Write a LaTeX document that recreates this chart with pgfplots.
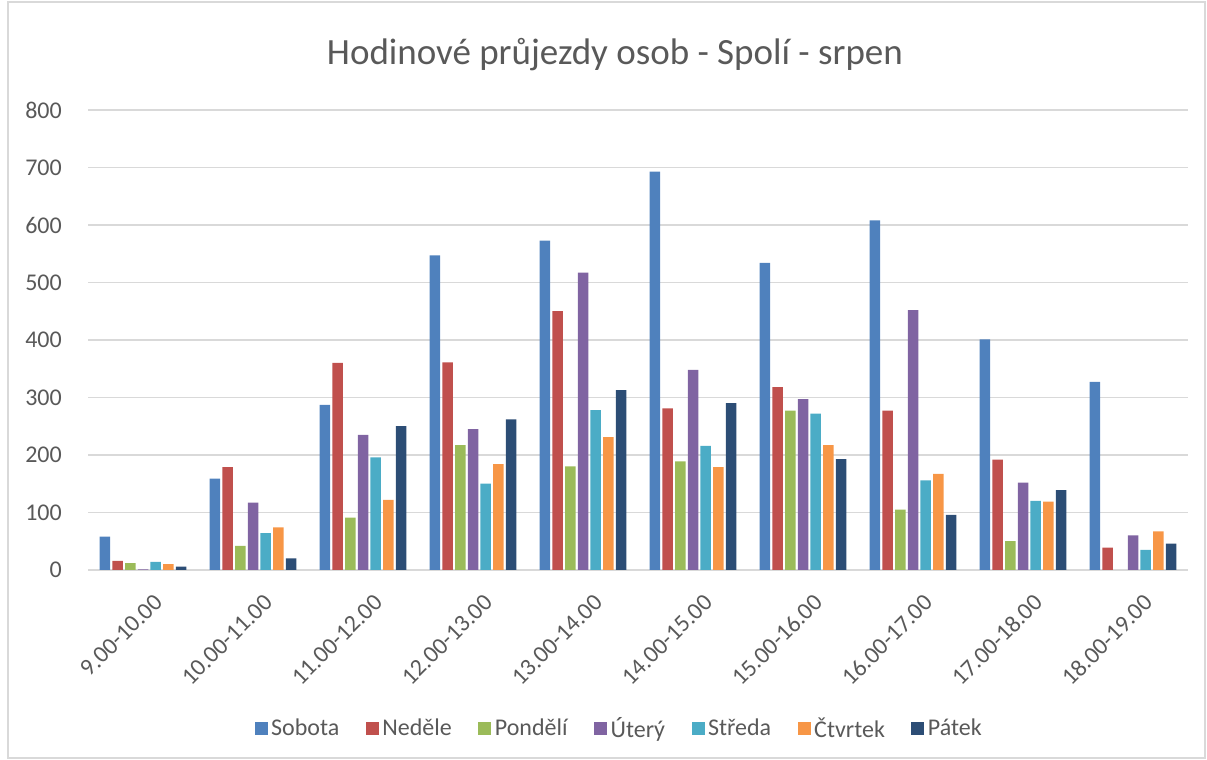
\documentclass[border=0pt]{standalone}
\usepackage{fontspec}
\setmainfont{Carlito}
\usepackage{pgfplots}
\pgfplotsset{compat=1.18}
\definecolor{cS}{HTML}{4F81BD}
\definecolor{cN}{HTML}{C0504D}
\definecolor{cP}{HTML}{9BBB59}
\definecolor{cU}{HTML}{8064A2}
\definecolor{cSt}{HTML}{4BACC6}
\definecolor{cC}{HTML}{F79646}
\definecolor{cPa}{HTML}{2C4D75}
\definecolor{txt}{HTML}{595959}
\definecolor{gridc}{HTML}{D9D9D9}
\begin{document}
\begin{tikzpicture}[x=1pt,y=1pt]
\useasboundingbox (0,0) rectangle (1207,760);
\draw[gridc, line width=1.2pt] (8,2) rectangle (1205,758);
\node[text=txt, font=\fontsize{37}{44}\selectfont, inner sep=0pt] at (615,705) {Hodinové průjezdy osob - Spolí - srpen};
\begin{axis}[
  at={(88pt,190pt)}, anchor=south west, scale only axis,
  width=1100pt, height=460pt,
  xmin=-0.5, xmax=9.5, ymin=0, ymax=800,
  ytick={0,100,...,800},
  xtick={0,...,9},
  xticklabels={9.00-10.00,10.00-11.00,11.00-12.00,12.00-13.00,13.00-14.00,14.00-15.00,15.00-16.00,16.00-17.00,17.00-18.00,18.00-19.00},
  /pgf/number format/assume math mode=true,
  axis line style={draw=none},
  major tick length=0pt,
  tick style={draw=none},
  ymajorgrids, grid style={gridc, line width=1.2pt},
  tick label style={font=\fontsize{24}{28}\selectfont, text=txt},
  yticklabel style={inner sep=0pt, xshift=-26pt},
  xticklabel style={rotate=45, anchor=east, inner sep=0pt, xshift=-9pt, yshift=-31pt},
  ybar=2.2pt, bar width=10.5pt,
  legend style={at={(0.4836,-0.3435)}, anchor=center, draw=none, fill=none,
    font=\fontsize{24}{28}\selectfont, text=txt, legend columns=7,
    nodes={inner sep=3.5pt},
    /tikz/every even column/.append style={column sep=23pt}},
  legend image code/.code={\fill[#1] (0pt,-6.5pt) rectangle (13pt,6.5pt);},
]
\addplot[fill=cS, draw=none] coordinates {(0,58) (1,159) (2,287) (3,547) (4,573) (5,693) (6,534) (7,608) (8,401) (9,327)};
\addplot[fill=cN, draw=none] coordinates {(0,16) (1,179) (2,360) (3,361) (4,450) (5,281) (6,318) (7,277) (8,192) (9,39)};
\addplot[fill=cP, draw=none] coordinates {(0,12) (1,42) (2,91) (3,217) (4,180) (5,189) (6,277) (7,105) (8,50)};
\addplot[fill=cU, draw=none] coordinates {(0,1) (1,117) (2,235) (3,245) (4,517) (5,348) (6,297) (7,452) (8,152) (9,60)};
\addplot[fill=cSt, draw=none] coordinates {(0,14) (1,64) (2,196) (3,150) (4,278) (5,216) (6,272) (7,156) (8,120) (9,35)};
\addplot[fill=cC, draw=none] coordinates {(0,10) (1,74) (2,122) (3,184) (4,231) (5,179) (6,217) (7,167) (8,119) (9,67)};
\addplot[fill=cPa, draw=none] coordinates {(0,6) (1,20) (2,250) (3,262) (4,313) (5,290) (6,193) (7,96) (8,139) (9,46)};
\legend{Sobota,Neděle,Pondělí,Úterý,Středa,Čtvrtek,Pátek}
\end{axis}
\end{tikzpicture}
\end{document}
